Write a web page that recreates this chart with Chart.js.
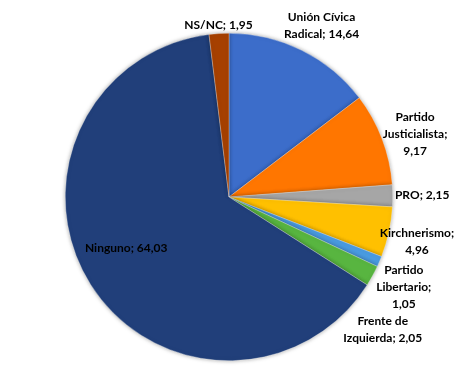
<!DOCTYPE html>
<html>
<head>
<meta charset="utf-8">
<script src="https://cdn.jsdelivr.net/npm/chart.js@4"></script>
<style>
  html, body { margin: 0; padding: 0; background: #fff; }
  #wrap { width: 455px; height: 389px; }
</style>
</head>
<body>
<div id="wrap"><canvas id="chart" width="455" height="389"></canvas></div>
<script>
const categories = [
  "Unión Cívica Radical",
  "Partido Justicialista",
  "PRO",
  "Kirchnerismo",
  "Partido Libertario",
  "Frente de Izquierda",
  "Ninguno",
  "NS/NC",
];
const values = [14.64, 9.17, 2.15, 4.96, 1.05, 2.05, 64.03, 1.95];
const colors = [
  "#3C6DCA", "#FF7600", "#A6A6A6", "#FFC000",
  "#4A9BE0", "#58B540", "#213F7A", "#A64000",
];

// how each label is broken into lines (word index where a new line starts)
const labelBreaks = [[2], [1, 2], [], [1], [1, 2], [2], [], []];
// label placement: distance as fraction of radius, angle nudge in degrees
const labelPlace = [
  [1.19, 2], [1.2, 2], [1.18, 0], [1.18, 1],
  [1.2, 4], [1.24, 12], [0.7, 6], [1.05, 0],
];

const fmt = (v) => v.toFixed(2).replace(".", ",");

function labelLines(i) {
  const words = `${categories[i]}; ${fmt(values[i])}`.split(" ");
  const lines = [];
  let cur = [];
  words.forEach((w, k) => {
    if (labelBreaks[i].includes(k) && cur.length) {
      lines.push(cur.join(" "));
      cur = [];
    }
    cur.push(w);
  });
  lines.push(cur.join(" "));
  return lines;
}

const shadowPlugin = {
  id: "pieShadow",
  beforeDatasetsDraw(chart) {
    const { ctx } = chart;
    ctx.save();
    ctx.shadowColor = "rgba(0,0,0,0.35)";
    ctx.shadowBlur = 4;
    ctx.shadowOffsetX = 0;
    ctx.shadowOffsetY = 0;
  },
  afterDatasetsDraw(chart) {
    chart.ctx.restore();
  },
};

const labelPlugin = {
  id: "sliceLabels",
  afterDraw(chart) {
    const { ctx } = chart;
    const meta = chart.getDatasetMeta(0);
    ctx.save();
    ctx.font = "bold 12px Lato, 'Open Sans', sans-serif";
    ctx.fillStyle = "#000";
    ctx.textAlign = "center";
    ctx.textBaseline = "middle";
    const lineH = 17;
    meta.data.forEach((arc, i) => {
      const p = arc.getProps(["x", "y", "startAngle", "endAngle", "outerRadius"], true);
      const mid = (p.startAngle + p.endAngle) / 2 + (labelPlace[i][1] * Math.PI) / 180;
      const d = p.outerRadius * labelPlace[i][0];
      const cx = p.x + Math.cos(mid) * d;
      const cy = p.y + Math.sin(mid) * d;
      const lines = labelLines(i);
      const top = cy - ((lines.length - 1) * lineH) / 2;
      lines.forEach((ln, k) => ctx.fillText(ln, cx, top + k * lineH));
    });
    ctx.restore();
  },
};

new Chart(document.getElementById("chart"), {
  type: "pie",
  data: {
    labels: categories,
    datasets: [
      {
        data: values,
        backgroundColor: colors,
        borderColor: "rgba(255,255,255,0.6)",
        borderWidth: 0.5,
      },
    ],
  },
  options: {
    responsive: false,
    animation: false,
    layout: { padding: { top: 33, bottom: 28, left: 65, right: 62 } },
    plugins: {
      legend: { display: false },
      tooltip: { enabled: false },
    },
  },
  plugins: [shadowPlugin, labelPlugin],
});
</script>
</body>
</html>
